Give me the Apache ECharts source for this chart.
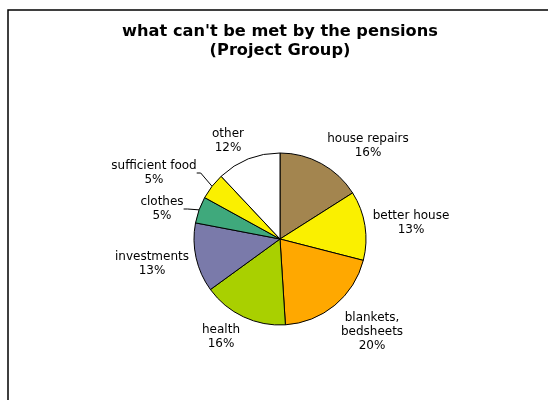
<!DOCTYPE html>
<html>
<head>
<meta charset="utf-8">
<script src="https://cdn.jsdelivr.net/npm/echarts@6/dist/echarts.min.js"></script>
<style>html,body{margin:0;padding:0;background:#fff;}#chart{width:548px;height:400px;}</style>
</head>
<body>
<div id="chart"></div>
<script>
const categories = ['house repairs', 'better house', 'blankets,\nbedsheets', 'health', 'investments', 'clothes', 'sufficient food', 'other'];
const values = [16, 13, 20, 16, 13, 5, 5, 12];
const colors = ['#A3854F', '#FAF000', '#FFA800', '#A9D000', '#7A7AAA', '#3FA97C', '#FAF000', '#FFFFFF'];
const showLeader = [false, false, false, false, false, true, true, false];
// label anchor positions (layout only)
const labelPos = [[368, 146], [411, 223], [372, 332], [221, 337], [152, 264], [162, 209], [154, 173], [228, 141]];

const FONT = '"DejaVu Sans", Verdana, sans-serif';
const chart = echarts.init(document.getElementById('chart'), null, {renderer: 'canvas'});
const data = categories.map((c, i) => ({
  name: c,
  value: values[i],
  itemStyle: {color: colors[i]},
  labelLine: {show: showLeader[i]}
}));
chart.setOption({
  animation: false,
  backgroundColor: '#fff',
  title: {
    text: "what can't be met by the pensions\n(Project Group)",
    left: 280,
    textAlign: 'center',
    top: 22,
    padding: 0,
    textStyle: {fontFamily: FONT, fontWeight: 'bold', fontSize: 16.2, lineHeight: 19, color: '#000'}
  },
  graphic: [{
    type: 'rect', silent: true,
    shape: {x: 8, y: 10, width: 600, height: 500},
    style: {fill: 'none', stroke: '#000', lineWidth: 1.5}
  }],
  series: [{
    type: 'pie',
    center: [280, 239],
    radius: 86,
    startAngle: 90,
    clockwise: true,
    avoidLabelOverlap: false,
    data: data,
    itemStyle: {borderColor: '#000', borderWidth: 1},
    emphasis: {disabled: true},
    label: {
      show: true,
      position: 'outside',
      formatter: function (p) { return p.name + '\n' + p.value + '%'; },
      fontFamily: FONT,
      fontSize: 12,
      lineHeight: 14.2,
      color: '#000',
      align: 'center'
    },
    labelLine: {lineStyle: {color: '#000', width: 1}, length: 6, length2: 4, smooth: false},
    labelLayout: function (p) {
      const pos = labelPos[p.dataIndex];
      return {x: pos[0], y: pos[1], align: 'center', verticalAlign: 'middle'};
    }
  }]
});
</script>
</body>
</html>
